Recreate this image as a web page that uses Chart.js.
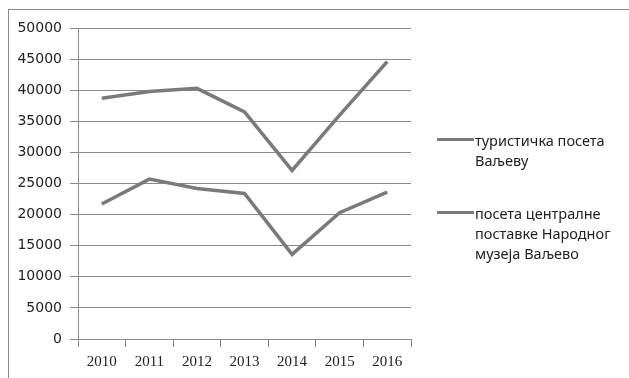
<!DOCTYPE html>
<html>
<head>
<meta charset="utf-8">
<script src="https://cdn.jsdelivr.net/npm/chart.js@4"></script>
<style>
    body { margin: 0; background: #fff; }
    #wrap { position: relative; width: 629px; height: 378px; overflow: hidden; }
    #frame { position: absolute; left: 8px; top: 9px; width: 640px; height: 400px;
             border-left: 1px solid #8a8a8a; border-top: 1px solid #8a8a8a; }
    canvas { position: absolute; left: 0; top: 0; }
    .leg { position: absolute; left: 437px; font: 14.5px "Noto Sans", sans-serif; color: #222; line-height: 20px; }
    .leg span.sw { position: absolute; left: 0; top: 8px; width: 37px; height: 3px; background: #7a7a7a; }
    .leg div { margin-left: 38px; }
</style>
</head>
<body>
<div id="wrap">
    <div id="frame"></div>
    <canvas id="myChart" width="629" height="378"></canvas>
    <div class="leg" id="leg1" style="top:130px"></div>
    <div class="leg" id="leg2" style="top:203px"></div>
</div>
<script>
const years = ['2010', '2011', '2012', '2013', '2014', '2015', '2016'];
const touristVisits = [38700, 39800, 40300, 36500, 27100, 36000, 44600];
const museumVisits = [21700, 25700, 24200, 23400, 13600, 20300, 23600];
const seriesNames = [
    ['туристичка посета', 'Ваљеву'],
    ['посета централне', 'поставке Народног', 'музеја Ваљево']
];

document.getElementById('leg1').innerHTML = '<span class="sw"></span><div>' + seriesNames[0].join('<br>') + '</div>';
document.getElementById('leg2').innerHTML = '<span class="sw"></span><div>' + seriesNames[1].join('<br>') + '</div>';

const ctx = document.getElementById('myChart');
new Chart(ctx, {
    type: 'line',
    data: {
        labels: years,
        datasets: [
            {
                label: seriesNames[0].join(' '),
                data: touristVisits,
                borderColor: '#7a7a7a',
                borderWidth: 3.5,
                pointRadius: 0,
                tension: 0
            },
            {
                label: seriesNames[1].join(' '),
                data: museumVisits,
                borderColor: '#7a7a7a',
                borderWidth: 3.5,
                pointRadius: 0,
                tension: 0
            }
        ]
    },
    options: {
        responsive: false,
        animation: false,
        layout: { padding: { left: 0, right: 218, top: 28, bottom: 0 } },
        plugins: { legend: { display: false }, tooltip: { enabled: false } },
        scales: {
            x: {
                offset: true,
                afterFit: (s) => { s.height = 39; },
                grid: { offset: true, drawOnChartArea: false, tickLength: 8, color: '#8a8a8a' },
                border: { display: false },
                ticks: { padding: 6, color: '#222', font: { family: '"Liberation Serif", serif', size: 15 } }
            },
            y: {
                min: 0,
                max: 50000,
                afterFit: (s) => { s.width = 78; },
                grid: { tickLength: 8, color: '#8a8a8a' },
                border: { color: '#8a8a8a' },
                ticks: {
                    stepSize: 5000, padding: 8, color: '#222',
                    font: { family: '"DejaVu Sans", sans-serif', size: 14 },
                    callback: (v) => String(v)
                }
            }
        }
    }
});
</script>
</body>
</html>
